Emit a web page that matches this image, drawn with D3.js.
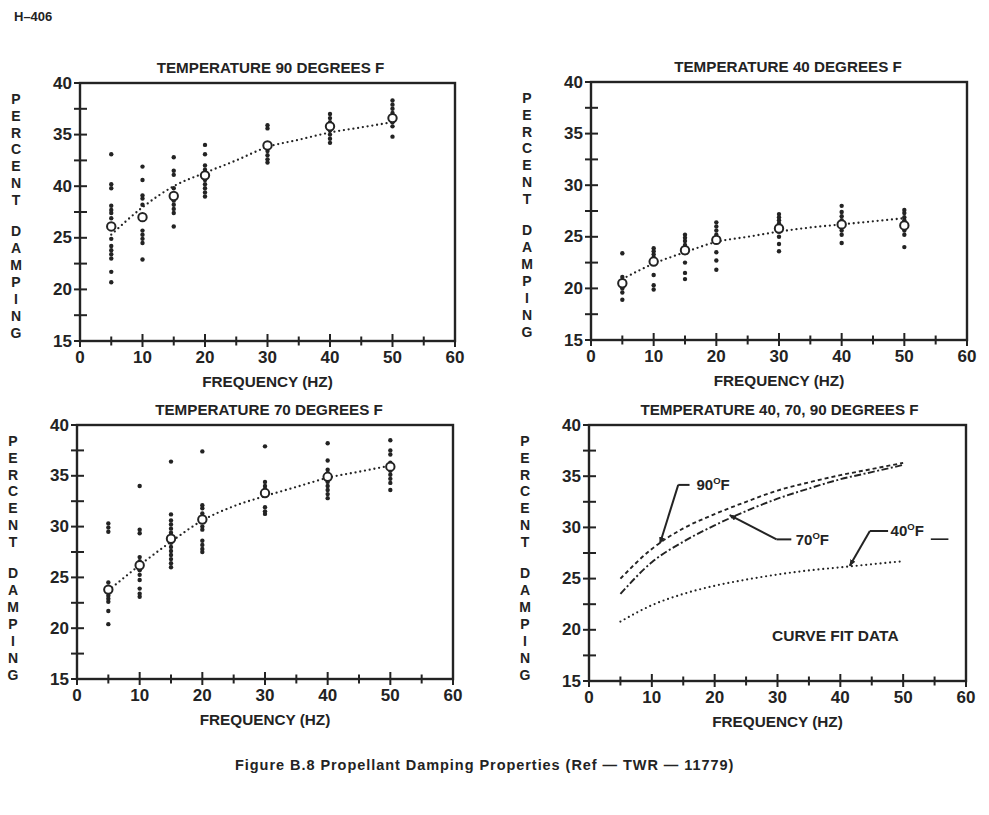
<!DOCTYPE html>
<html><head><meta charset="utf-8">
<script src="https://cdn.jsdelivr.net/npm/d3@7/dist/d3.min.js"></script>
<style>
body{margin:0;background:#fff;}
svg text{font-family:"Liberation Sans",Arial,Helvetica,sans-serif;fill:#232323;}
</style></head><body>
<svg id="c" width="989" height="815"></svg>
<script>
// ---------- data ----------
const freqs = [5, 10, 15, 20, 30, 40, 50];
const fitFreqs = [5, 10, 15, 20, 25, 30, 35, 40, 45, 50];
const xTicks = [0, 10, 20, 30, 40, 50, 60];
const xMinorTicks = [5, 15, 25, 35, 45, 55];
const yTicks = [15, 20, 25, 30, 35, 40];
const yMinorTicks = [17.5, 22.5, 27.5, 32.5, 37.5];
const yTickLabels = ["15", "20", "25", "30", "35", "40"];
const yTickLabels90 = ["15", "20", "25", "40", "35", "40"]; // as printed in the original

const titles = ["TEMPERATURE 90 DEGREES F", "TEMPERATURE 40 DEGREES F",
                "TEMPERATURE 70 DEGREES F", "TEMPERATURE 40, 70, 90 DEGREES F"];

// 90 F test points (one list per frequency)
const obs90 = [
  [33.1, 30.2, 29.8, 28.1, 27.7, 27.4, 26.9, 24.9, 24.2, 23.8, 23.4, 23.0, 21.7, 20.7],
  [31.9, 30.6, 29.1, 28.8, 28.2, 25.7, 25.3, 24.9, 24.5, 22.9],
  [32.8, 31.5, 31.1, 29.8, 28.6, 28.2, 27.8, 27.4, 26.1],
  [34.0, 33.1, 32.0, 31.6, 30.6, 30.2, 29.8, 29.4, 29.0],
  [35.9, 35.6, 33.4, 33.0, 32.6, 32.3],
  [37.0, 36.6, 36.2, 35.4, 35.0, 34.6, 34.2],
  [38.3, 37.9, 37.5, 37.1, 36.2, 35.8, 34.8]
];
const mean90 = [26.1, 27.0, 29.05, 31.05, 33.95, 35.8, 36.6];
const fit90 = [25.3, 27.95, 30.0, 31.3, 32.5, 33.8, 34.5, 35.2, 35.7, 36.2];

// 40 F test points
const obs40 = [
  [23.4, 21.1, 20.0, 19.6, 18.9],
  [23.9, 23.6, 23.3, 23.0, 22.7, 21.3, 20.3, 19.9],
  [25.2, 24.9, 24.6, 24.2, 23.9, 22.5, 21.5, 20.9],
  [26.4, 26.0, 25.6, 25.2, 24.8, 23.5, 22.7, 21.8],
  [27.2, 26.9, 26.6, 26.3, 26.0, 25.5, 25.0, 24.3, 23.6],
  [28.0, 27.4, 27.0, 26.6, 25.6, 25.2, 24.4],
  [27.6, 27.3, 26.9, 26.6, 25.6, 25.2, 24.0]
];
const mean40 = [20.5, 22.6, 23.7, 24.7, 25.8, 26.2, 26.1];
const fit40 = [20.9, 22.4, 23.5, 24.5, 25.0, 25.5, 25.9, 26.2, 26.5, 26.8];

// 70 F test points
const obs70 = [
  [30.3, 29.9, 29.5, 24.5, 23.2, 22.9, 22.6, 21.7, 20.4],
  [34.0, 29.7, 29.35, 27.0, 26.6, 25.7, 25.25, 24.75, 23.9, 23.4, 23.1],
  [36.4, 31.2, 30.6, 30.2, 29.8, 29.4, 28.4, 28.0, 27.6, 27.2, 26.8, 26.4, 26.0],
  [37.4, 32.1, 31.8, 31.3, 30.0, 29.7, 28.6, 28.2, 27.8, 27.5],
  [37.9, 34.4, 34.0, 33.7, 31.9, 31.5, 31.25],
  [38.2, 36.5, 35.6, 35.25, 34.4, 34.0, 33.6, 33.2, 32.8],
  [38.5, 37.5, 37.1, 36.3, 35.5, 35.1, 34.7, 34.3, 33.6]
];
const mean70 = [23.8, 26.2, 28.8, 30.7, 33.3, 34.9, 35.9];
const fit70 = [23.7, 26.2, 28.5, 30.6, 32.0, 33.0, 33.9, 34.8, 35.4, 36.0];

// Curve fit comparison (panel 4)
const curve90 = [25.0, 27.9, 29.9, 31.3, 32.5, 33.6, 34.4, 35.1, 35.7, 36.3];
const curve70 = [23.5, 26.6, 28.6, 30.2, 31.6, 32.8, 33.8, 34.7, 35.4, 36.1];
const curve40 = [20.8, 22.4, 23.5, 24.3, 24.9, 25.4, 25.8, 26.1, 26.4, 26.7];
const curveNames = ["90", "70", "40"];
// annotation anchors in data units
const annotTip = [[11.3, 28.45], [22.4, 31.2], [41.5, 26.25]];
const annotElbow = [[14.2, 34.15], [29.85, 28.83], [44.7, 29.65]];
const annotEnd = [16.0, 32.2, 47.6];
const annotTextHz = [17.1, 32.9, 48.0];

// ---------- layout ----------
const layout = [
  {x: 80, y: 83, w: 375, h: 258, tdx: 3},
  {x: 591, y: 82, w: 376, h: 258, tdx: 9},
  {x: 77, y: 425, w: 376, h: 254, tdx: 4},
  {x: 589, y: 425, w: 377, h: 256, tdx: 2}
];
const ink = "#232323";
const svg = d3.select("#c");

svg.append("defs").append("marker")
  .attr("id", "arr").attr("viewBox", "0 0 10 8").attr("refX", 9).attr("refY", 4)
  .attr("markerWidth", 7).attr("markerHeight", 6).attr("markerUnits", "userSpaceOnUse")
  .attr("orient", "auto")
  .append("path").attr("d", "M0,0 L10,4 L0,8 Z").attr("fill", ink);

svg.append("text").attr("x", 14).attr("y", 21)
  .attr("font-size", 13).attr("font-weight", "bold").text("H\u2013406");

svg.append("text").attr("x", 235).attr("y", 770)
  .attr("font-size", 14.5).attr("font-weight", "bold").attr("letter-spacing", 0.95)
  .text("Figure B.8 Propellant Damping Properties (Ref \u2014 TWR \u2014 11779)");

function drawFrame(i, tickLabels) {
  const L = layout[i];
  const x = d3.scaleLinear().domain([0, 60]).range([L.x, L.x + L.w]);
  const y = d3.scaleLinear().domain([15, 40]).range([L.y + L.h, L.y]);
  const g = svg.append("g");
  g.append("text").attr("x", L.x + L.w / 2 + L.tdx).attr("y", L.y - 16)
    .attr("text-anchor", "middle").attr("dominant-baseline", "central")
    .attr("font-size", 15.2).attr("font-weight", "bold").text(titles[i]);
  g.append("rect").attr("x", L.x).attr("y", L.y).attr("width", L.w).attr("height", L.h)
    .attr("fill", "none").attr("stroke", ink).attr("stroke-width", 2.4);
  xTicks.concat(xMinorTicks).forEach(v => {
    const major = v % 10 === 0;
    g.append("line").attr("x1", x(v)).attr("x2", x(v))
      .attr("y1", y(15) - (major ? 7 : 4.5)).attr("y2", y(15) + (major ? 6 : 4.5))
      .attr("stroke", ink).attr("stroke-width", 2);
  });
  xTicks.forEach(v => {
    g.append("text").attr("x", x(v)).attr("y", y(15) + 16.5)
      .attr("text-anchor", "middle").attr("dominant-baseline", "central")
      .attr("font-size", 17).attr("font-weight", "bold").text(v);
  });
  yTicks.concat(yMinorTicks).forEach(v => {
    g.append("line").attr("y1", y(v)).attr("y2", y(v))
      .attr("x1", x(0) - 6).attr("x2", x(0) + 7)
      .attr("stroke", ink).attr("stroke-width", 2);
  });
  yTicks.forEach((v, k) => {
    g.append("text").attr("x", x(0) - 8).attr("y", y(v))
      .attr("text-anchor", "end").attr("dominant-baseline", "central")
      .attr("font-size", 17).attr("font-weight", "bold").text(tickLabels[k]);
  });
  g.append("text").attr("x", L.x + L.w / 2).attr("y", L.y + L.h + 40.5)
    .attr("text-anchor", "middle").attr("dominant-baseline", "central")
    .attr("font-size", 15.3).attr("font-weight", "bold").text("FREQUENCY (HZ)");
  const word1 = "PERCENT".split(""), word2 = "DAMPING".split("");
  word1.forEach((c, k) => g.append("text").attr("x", L.x - 64).attr("y", L.y + 16 + k * 16.8)
    .attr("text-anchor", "middle").attr("dominant-baseline", "central")
    .attr("font-size", 14).attr("font-weight", "bold").text(c));
  word2.forEach((c, k) => g.append("text").attr("x", L.x - 64).attr("y", L.y + 148 + k * 17)
    .attr("text-anchor", "middle").attr("dominant-baseline", "central")
    .attr("font-size", 14).attr("font-weight", "bold").text(c));
  return {g, x, y};
}

function dotted(g, x, y, vals, dash, width) {
  const line = d3.line().x((d, k) => x(fitFreqs[k])).y(d => y(d)).curve(d3.curveMonotoneX);
  g.append("path").attr("d", line(vals)).attr("fill", "none").attr("stroke", ink)
    .attr("stroke-width", width).attr("stroke-linecap", dash === "0,4.8" ? "round" : "butt")
    .attr("stroke-dasharray", dash);
}

const scatterPanels = [
  {obs: obs90, mean: mean90, fit: fit90, labels: yTickLabels90},
  {obs: obs40, mean: mean40, fit: fit40, labels: yTickLabels},
  {obs: obs70, mean: mean70, fit: fit70, labels: yTickLabels}
];
scatterPanels.forEach((p, i) => {
  const {g, x, y} = drawFrame(i, p.labels);
  dotted(g, x, y, p.fit, "0,4.8", 2.3);
  p.obs.forEach((list, k) => {
    list.forEach(v => g.append("circle").attr("cx", x(freqs[k])).attr("cy", y(v))
      .attr("r", 2.2).attr("fill", ink));
  });
  p.mean.forEach((v, k) => g.append("circle").attr("cx", x(freqs[k])).attr("cy", y(v))
    .attr("r", 4.2).attr("fill", "#fff").attr("stroke", ink).attr("stroke-width", 2));
});

{
  const {g, x, y} = drawFrame(3, yTickLabels);
  dotted(g, x, y, curve90, "4,3", 1.9);
  dotted(g, x, y, curve70, "7,2.5,2,2.5", 1.9);
  dotted(g, x, y, curve40, "0,4.8", 2.2);
  curveNames.forEach((n, k) => {
    const tip = annotTip[k], el = annotElbow[k];
    g.append("line").attr("x1", x(annotEnd[k])).attr("y1", y(el[1]))
      .attr("x2", x(el[0])).attr("y2", y(el[1])).attr("stroke", ink).attr("stroke-width", 2);
    g.append("line").attr("x1", x(el[0])).attr("y1", y(el[1]))
      .attr("x2", x(tip[0])).attr("y2", y(tip[1])).attr("stroke", ink).attr("stroke-width", 2)
      .attr("marker-end", "url(#arr)");
    const t = g.append("text").attr("x", x(annotTextHz[k])).attr("y", y(el[1]) + 5.5)
      .attr("font-size", 15).attr("font-weight", "bold");
    t.append("tspan").text(n);
    t.append("tspan").attr("font-size", 9.5).attr("dy", -6).text("O");
    t.append("tspan").attr("dy", 6).text("F");
  });
  g.append("line").attr("x1", x(54.4)).attr("x2", x(57.2)).attr("y1", y(28.85)).attr("y2", y(28.85))
    .attr("stroke", ink).attr("stroke-width", 1.6);
  g.append("text").attr("x", x(39.2)).attr("y", y(19.4)).attr("text-anchor", "middle")
    .attr("dominant-baseline", "central").attr("font-size", 15.5).attr("font-weight", "bold")
    .text("CURVE FIT DATA");
}
</script>
</body></html>
